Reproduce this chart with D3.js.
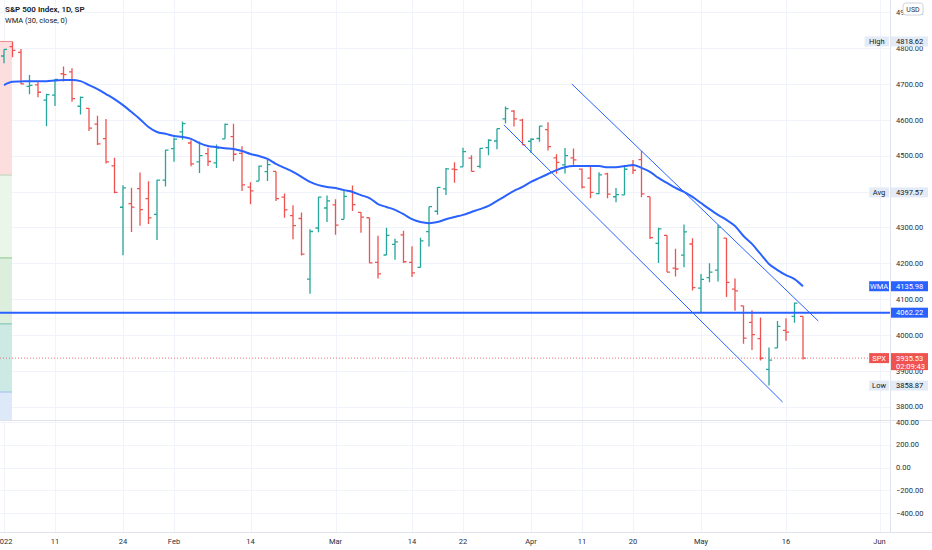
<!DOCTYPE html>
<html>
<head>
<meta charset="utf-8">
<script src="https://cdn.jsdelivr.net/npm/d3@7"></script>
<style>
body{margin:0;background:#fff;overflow:hidden}
svg{display:block;font-family:Roboto,"Liberation Sans",sans-serif}
</style>
</head>
<body>
<div id="chart"></div>
<script>
// daily sessions shown on the chart (2022)
const dates = [
  '01-03','01-04','01-05','01-06','01-07','01-10','01-11','01-12','01-13','01-14',
  '01-18','01-19','01-20','01-21','01-24','01-25','01-26','01-27','01-28','01-31',
  '02-01','02-02','02-03','02-04','02-07','02-08','02-09','02-10','02-11','02-14',
  '02-15','02-16','02-17','02-18','02-22','02-23','02-24','02-25','02-28',
  '03-01','03-02','03-03','03-04','03-07','03-08','03-09','03-10','03-11','03-14',
  '03-15','03-16','03-17','03-18','03-21','03-22','03-23','03-24','03-25','03-28',
  '03-29','03-30','03-31',
  '04-01','04-04','04-05','04-06','04-07','04-08','04-11','04-12','04-13','04-14',
  '04-18','04-19','04-20','04-21','04-22','04-25','04-26','04-27','04-28','04-29',
  '05-02','05-03','05-04','05-05','05-06','05-09','05-10','05-11','05-12','05-13',
  '05-16','05-17','05-18'
];
// empty sessions to the right of the last bar
const futureDates = ['05-19','05-20','05-23','05-24','05-25','05-26','05-27','05-31','06-01'];

const opens = [
  4778.1,4804.5,4788.0,4693.4,4697.7,4655.3,4669.1,4728.6,4733.6,4638.0,
  4632.2,4588.0,4547.4,4471.4,4356.3,4366.6,4408.4,4380.6,4336.2,4431.8,
  4519.6,4566.4,4535.4,4482.8,4505.8,4480.0,4547.0,4553.2,4506.3,4412.6,
  4429.3,4455.8,4456.1,4384.6,4332.7,4324.9,4155.8,4298.4,4354.2,
  4363.1,4322.6,4401.3,4342.1,4327.0,4202.7,4223.1,4252.6,4279.5,4202.8,
  4188.8,4288.1,4345.1,4407.3,4462.4,4469.1,4493.1,4470.0,4522.7,4541.1,
  4602.9,4624.2,4599.0,
  4540.3,4548.0,4572.5,4494.2,4474.7,4494.2,4462.6,4437.6,4394.3,4449.1,
  4385.6,4390.6,4472.3,4489.2,4385.8,4255.3,4278.1,4186.5,4222.6,4253.8,
  4130.6,4159.8,4181.2,4270.4,4128.2,4081.3,4035.2,3990.1,3904.0,3963.9,
  4013.0,4052.0,4052.0
];
const highs = [
  4796.6,4818.6,4797.7,4725.0,4708.0,4673.0,4714.1,4748.8,4744.1,4665.1,
  4632.2,4611.6,4602.1,4494.5,4417.4,4411.0,4453.2,4428.7,4432.7,4516.9,
  4550.5,4595.3,4542.9,4539.7,4521.9,4531.3,4590.0,4588.9,4526.3,4426.2,
  4472.8,4489.6,4456.1,4394.6,4362.1,4341.5,4294.7,4385.3,4388.8,
  4378.5,4401.5,4416.8,4342.1,4327.0,4276.9,4299.4,4268.3,4291.0,4247.6,
  4271.1,4357.9,4412.7,4465.4,4481.8,4522.0,4501.1,4520.6,4546.0,4575.7,
  4637.3,4627.8,4603.1,
  4548.7,4583.5,4593.5,4503.9,4521.2,4520.4,4464.4,4471.0,4453.9,4452.8,
  4410.3,4471.0,4488.3,4512.9,4385.8,4299.0,4278.1,4240.7,4308.5,4269.7,
  4169.8,4200.1,4307.7,4270.4,4157.7,4081.3,4068.8,4049.1,3964.8,4038.9,
  4046.5,4090.7,4052.0
];
const lows = [
  4758.2,4774.3,4699.4,4671.3,4662.7,4582.2,4638.3,4706.7,4650.3,4614.8,
  4568.7,4530.2,4478.0,4395.3,4222.6,4287.1,4304.8,4309.5,4264.7,4414.0,
  4483.5,4544.3,4470.4,4451.5,4471.5,4465.4,4547.0,4484.3,4401.4,4364.8,
  4429.3,4429.7,4373.8,4327.2,4267.1,4221.5,4114.7,4286.8,4315.1,
  4279.5,4322.6,4345.6,4285.0,4199.9,4157.9,4223.1,4209.8,4200.5,4161.7,
  4187.9,4246.7,4335.7,4390.6,4424.3,4469.1,4455.8,4465.2,4501.1,4517.7,
  4589.7,4581.3,4530.4,
  4507.6,4539.2,4514.2,4450.0,4450.3,4474.6,4408.4,4381.3,4392.7,4381.2,
  4370.3,4390.6,4448.8,4384.5,4267.6,4200.8,4175.0,4162.9,4188.6,4124.3,
  4062.5,4147.1,4148.9,4106.0,4067.9,3975.5,3958.2,3928.8,3858.9,3963.9,
  3984.0,4033.9,3932.0
];
const closes = [
  4796.6,4793.5,4700.6,4696.1,4677.0,4670.3,4713.1,4726.4,4659.0,4662.9,
  4577.1,4532.8,4482.7,4397.9,4410.1,4356.5,4349.9,4326.5,4431.9,4515.6,
  4546.5,4589.4,4477.4,4500.5,4483.9,4521.5,4587.2,4504.1,4418.6,4401.7,
  4471.1,4475.0,4380.3,4348.9,4304.8,4225.5,4288.7,4384.7,4373.9,
  4306.3,4386.5,4363.5,4328.9,4201.1,4170.7,4277.9,4259.5,4204.3,4173.1,
  4262.5,4357.9,4411.7,4463.1,4461.2,4511.6,4456.2,4520.2,4543.1,4575.5,
  4631.6,4602.5,4530.4,
  4545.9,4582.6,4525.1,4481.2,4500.2,4488.3,4412.5,4397.5,4446.6,4392.6,
  4391.7,4462.2,4459.5,4393.7,4271.8,4296.1,4175.2,4184.0,4287.5,4131.9,
  4155.4,4175.5,4300.2,4146.9,4123.3,3991.2,4001.1,3935.2,3930.1,4023.9,
  4008.0,4088.9,3935.5
];
// WMA (30, close)
const wma = [
  4697,4706,4707,4708,4708,4708,4710,4711,4711,4708,
  4697,4686,4672,4658,4641,4622,4602,4580,4566,4561,
  4555,4552,4547,4535,4527,4524,4521,4519,4513,4505,
  4499,4491,4477,4466,4455,4441,4427,4418,4413,
  4410,4404,4399,4390,4382,4365,4357,4349,4337,4323,
  4315,4312,4315,4323,4329,4335,4343,4351,4360,4374,
  4388,4402,4413,
  4427,4438,4449,4460,4468,4471,4471,4471,4471,4468,
  4468,4471,4474,4466,4455,4438,4424,4410,4399,4385,
  4368,4351,4335,4321,4304,4276,4254,4226,4198,4181,
  4167,4156,4136
];

const tickDates  = ['01-03','01-11','01-24','02-01','02-14','03-01','03-14','03-22','04-01','04-11','04-20','05-02','05-16','06-01'];
const tickLabels = ['2022','11','24','Feb','14','Mar','14','22','Apr','11','20','May','16','Jun'];
const priceTicks = [3800,3900,4000,4100,4200,4300,4400,4500,4600,4700,4800,4900];
const lowerTicks = [400,200,0,-200,-400];

// drawings: [bar index, price]
const channelUpper = [[66.8,4700],[95.8,4039]];
const channelLower = [[58.8,4586],[91.6,3813]];
const hLevel = 4062.22;
const lastPrice = 3935.53;
const fibLevels = [4818.62,4446,4215,4031,3841,3700];
const fibColors = ['#fcdede','#eaf6ea','#dcefdc','#cde9e4','#dde9f8'];
const fibLines  = ['#f08a8a','#b9d7b9','#8cc78c','#76bfb3','#9cc2ee'];

const stats = {high:4818.62, avg:4397.57, low:3858.87, wmaLast:4135.98};

const W = 932, H = 550, axisX = 890, paneBottom = 420, lowerBottom = 532;
const green = '#26a69a', red = '#ef5350', blue = '#2962ff';
const sessions = dates.concat(futureDates);

const x = d3.scaleLinear().domain([0, sessions.length - 1]).range([4, 4 + 8.5 * (sessions.length - 1)]);
const y = d3.scaleLinear().domain([4000, 4700]).range([335, 84]);
const y2 = d3.scaleLinear().domain([400, -400]).range([422, 513]);

const svg = d3.select('#chart').append('svg').attr('width', W).attr('height', H);
svg.append('rect').attr('width', W).attr('height', H).attr('fill', '#fff');

svg.append('clipPath').attr('id', 'main').append('rect')
  .attr('x', 0).attr('y', 0).attr('width', axisX).attr('height', paneBottom);

// grid
const grid = svg.append('g').attr('stroke', '#f0f3fa').attr('stroke-width', 1);
tickDates.forEach(d => {
  const px = Math.round(x(sessions.indexOf(d))) + 0.5;
  grid.append('line').attr('x1', px).attr('x2', px).attr('y1', 0).attr('y2', lowerBottom);
});
priceTicks.forEach(v => {
  const py = Math.round(y(v)) + 0.5;
  grid.append('line').attr('x1', 0).attr('x2', axisX).attr('y1', py).attr('y2', py);
});
lowerTicks.forEach(v => {
  const py = Math.round(y2(v)) + 0.5;
  grid.append('line').attr('x1', 0).attr('x2', axisX).attr('y1', py).attr('y2', py);
});

const plot = svg.append('g').attr('clip-path', 'url(#main)');

// fib-like zones at the left edge
const zone = plot.append('g');
for (let k = 0; k < fibColors.length; k++) {
  zone.append('rect').attr('x', 0).attr('width', 12)
    .attr('y', y(fibLevels[k])).attr('height', y(fibLevels[k + 1]) - y(fibLevels[k]))
    .attr('fill', fibColors[k]);
  zone.append('line').attr('x1', 0).attr('x2', 12)
    .attr('y1', y(fibLevels[k])).attr('y2', y(fibLevels[k]))
    .attr('stroke', fibLines[k]).attr('stroke-width', 1);
}

// last price dotted line
plot.append('line').attr('x1', 0).attr('x2', axisX)
  .attr('y1', y(lastPrice)).attr('y2', y(lastPrice))
  .attr('stroke', red).attr('stroke-width', 0.8).attr('stroke-dasharray', '1,2');

// OHLC bars
plot.append('g').selectAll('path').data(d3.range(dates.length)).join('path')
  .attr('fill', 'none')
  .attr('stroke-width', 1.3)
  .attr('stroke', i => closes[i] >= opens[i] ? green : red)
  .attr('d', i => {
    const px = x(i);
    return `M${px},${y(highs[i])}V${y(lows[i])}` +
      `M${px - 3},${y(opens[i])}H${px}` +
      `M${px},${y(closes[i])}H${px + 3}`;
  });

// WMA
plot.append('path').datum(wma)
  .attr('fill', 'none').attr('stroke', blue).attr('stroke-width', 2)
  .attr('d', d3.line().x((d, i) => x(i)).y(d => y(d)).curve(d3.curveMonotoneX));

// channel drawings
[channelUpper, channelLower].forEach(seg => {
  plot.append('line')
    .attr('x1', x(seg[0][0])).attr('y1', y(seg[0][1]))
    .attr('x2', x(seg[1][0])).attr('y2', y(seg[1][1]))
    .attr('stroke', blue).attr('stroke-width', 1);
});

// horizontal level
plot.append('line').attr('x1', 0).attr('x2', axisX)
  .attr('y1', y(hLevel)).attr('y2', y(hLevel))
  .attr('stroke', blue).attr('stroke-width', 2);

// borders
const border = svg.append('g').attr('stroke', '#e0e3eb').attr('stroke-width', 1);
border.append('line').attr('x1', 0).attr('x2', W).attr('y1', paneBottom + 0.5).attr('y2', paneBottom + 0.5);
border.append('line').attr('x1', 0).attr('x2', W).attr('y1', lowerBottom + 0.5).attr('y2', lowerBottom + 0.5);
border.append('line').attr('x1', axisX + 0.5).attr('x2', axisX + 0.5).attr('y1', 0).attr('y2', lowerBottom);

// title
svg.append('text').attr('x', 5).attr('y', 12).attr('font-size', 8).attr('font-weight', 600)
  .attr('fill', '#131722').text('S&P 500 Index, 1D, SP');
svg.append('text').attr('x', 5).attr('y', 23).attr('font-size', 7.5)
  .attr('fill', '#131722').text('WMA (30, close, 0)');

// x axis labels
svg.append('g').selectAll('text').data(tickDates).join('text')
  .attr('x', d => x(sessions.indexOf(d)))
  .attr('y', 544).attr('text-anchor', 'middle').attr('font-size', 7.5)
  .attr('fill', '#2a2e39').text((d, i) => tickLabels[i]);

// price axis labels
const axisTxt = svg.append('g').attr('font-size', 7.5).attr('fill', '#2a2e39');
priceTicks.forEach(v => {
  axisTxt.append('text').attr('x', 896).attr('y', y(v) + 2.7).text(d3.format('.2f')(v));
});
lowerTicks.forEach(v => {
  axisTxt.append('text').attr('x', 896).attr('y', y2(v) + 2.7).text(d3.format('.2f')(v));
});

// badges on the price axis
function badge(name, value, yy, bg, fg, lines) {
  const g = svg.append('g').attr('font-size', 7.5);
  const h = lines ? 17 : 10;
  if (name) {
    const nw = name.length * 4.6 + 6;
    g.append('rect').attr('x', axisX - nw - 1).attr('y', yy - 5).attr('width', nw).attr('height', 10).attr('fill', bg);
    g.append('text').attr('x', axisX - 1 - nw / 2).attr('y', yy + 2.7).attr('text-anchor', 'middle').attr('fill', fg).text(name);
  }
  g.append('rect').attr('x', axisX + 1).attr('y', yy - 5).attr('width', 37).attr('height', h).attr('fill', bg);
  g.append('text').attr('x', 896).attr('y', yy + 2.7).attr('fill', fg).text(d3.format('.2f')(value));
  if (lines) g.append('text').attr('x', 896).attr('y', yy + 10.5).attr('fill', fg).text(lines);
}
const lightBg = '#e3ebf7';
badge('High', stats.high, y(stats.high), lightBg, '#131722');
badge('Avg', stats.avg, y(stats.avg), lightBg, '#131722');
badge('Low', stats.low, y(stats.low), lightBg, '#131722');
badge('WMA', stats.wmaLast, y(stats.wmaLast), blue, '#fff');
badge(null, hLevel, y(hLevel), blue, '#fff');
badge('SPX', lastPrice, y(lastPrice), red, '#fff', '02:09:43');

// currency badge
const usd = svg.append('g');
usd.append('rect').attr('x', 903).attr('y', 3).attr('width', 20).attr('height', 12).attr('rx', 3)
  .attr('fill', '#fff').attr('stroke', '#d1d4dc');
usd.append('text').attr('x', 913).attr('y', 11.5).attr('text-anchor', 'middle')
  .attr('font-size', 7).attr('fill', '#2a2e39').text('USD');
</script>
</body>
</html>
